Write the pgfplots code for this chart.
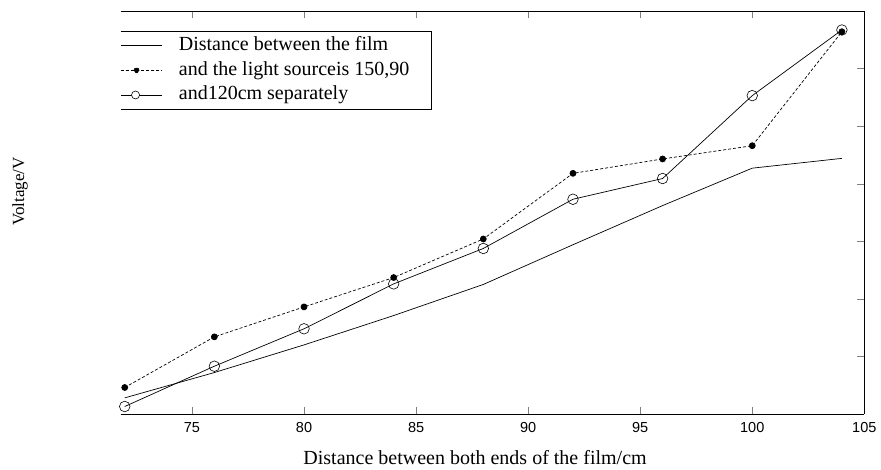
\documentclass[border=0pt]{standalone}
\usepackage{pgfplots}
\pgfplotsset{compat=1.18}
\usepackage{fontspec}
\setmainfont{Liberation Serif}
\newfontfamily\arialfont{Liberation Sans}
\begin{document}
\begin{tikzpicture}
\begin{axis}[
  scale only axis,
  width=743.6bp, height=403bp,
  xmin=71.82, xmax=105, ymin=0, ymax=7,
  clip=false,
  axis x line=box, axis y line=right,
  axis line style={-, line width=0.9pt},
  tick align=inside,
  major tick length=7bp,
  xtick={75,80,85,90,95,100,105},
  ytick={1,2,3,4,5,6},
  yticklabels={},
  /pgf/number format/assume math mode=true,
  x tick label style={font=\arialfont\fontsize{14.5bp}{17bp}\selectfont, yshift=-5bp},
  xlabel={Distance between both ends of the film/cm},
  ylabel={Voltage/V},
  x label style={font=\fontsize{20bp}{23bp}\selectfont, at={(axis description cs:0.4765,-0.108)}, anchor=center},
  y label style={font=\fontsize{17bp}{20bp}\selectfont, at={(axis description cs:-0.1354,0.552)}, anchor=center, rotate=0},
  legend style={at={(axis description cs:0,0.9494)}, anchor=north west,
    draw=none, fill=none, font=\fontsize{20bp}{23bp}\selectfont,
    inner xsep=0pt, inner ysep=4.25bp, row sep=5.2bp,
    nodes={inner sep=0pt, text height=14.5bp, text depth=5bp},
    /tikz/every odd column/.append style={column sep=16.6bp}},
  legend cell align=left,
  every axis plot/.append style={line width=0.7pt},
]
\coordinate (sw) at (rel axis cs:0,0);
\coordinate (ne) at (rel axis cs:1,1);
\draw[line width=0.7pt] (rel axis cs:0,0.9494) -- (rel axis cs:0.4176,0.9494) -- (rel axis cs:0.4176,0.7568) -- (rel axis cs:0,0.7568);
\addplot[black, mark=none, legend image code/.code={\draw[line width=0.7pt] (0bp,0bp) -- (40.7bp,0bp);}] coordinates {
(72,0.28) (76,0.72) (80,1.20) (84,1.71) (88,2.25) (92,2.94) (96,3.62) (100,4.27) (104,4.44)};
\addlegendentry{Distance between the film}
\addplot[black, dash pattern=on 3pt off 2pt, mark=*, mark size=3bp, mark options={solid, fill=black},
  legend image code/.code={\draw[line width=0.7pt, dash pattern=on 3pt off 2pt] (0bp,0bp) -- (40.7bp,0bp); \fill (15.3bp,0bp) circle (2.5bp);}] coordinates {
(72,0.46) (76,1.34) (80,1.86) (84,2.37) (88,3.04) (92,4.18) (96,4.43) (100,4.66) (104,6.64)};
\addlegendentry{and the light sourceis 150,90}
\addplot[black, mark=o, mark size=5.3bp, mark options={solid, line width=0.6pt},
  legend image code/.code={\draw[line width=0.7pt] (0bp,0bp) -- (40.7bp,0bp); \draw[line width=0.6pt, fill=white] (14.3bp,0bp) circle (4bp);}] coordinates {
(72,0.13) (76,0.83) (80,1.48) (84,2.26) (88,2.875) (92,3.73) (96,4.09) (100,5.53) (104,6.67)};
\addlegendentry{and120cm separately}
\end{axis}
\pgfresetboundingbox
\path ([shift={(-120.7bp,-55.7bp)}]sw) rectangle ([shift={(16.7bp,11bp)}]ne);
\end{tikzpicture}
\end{document}
